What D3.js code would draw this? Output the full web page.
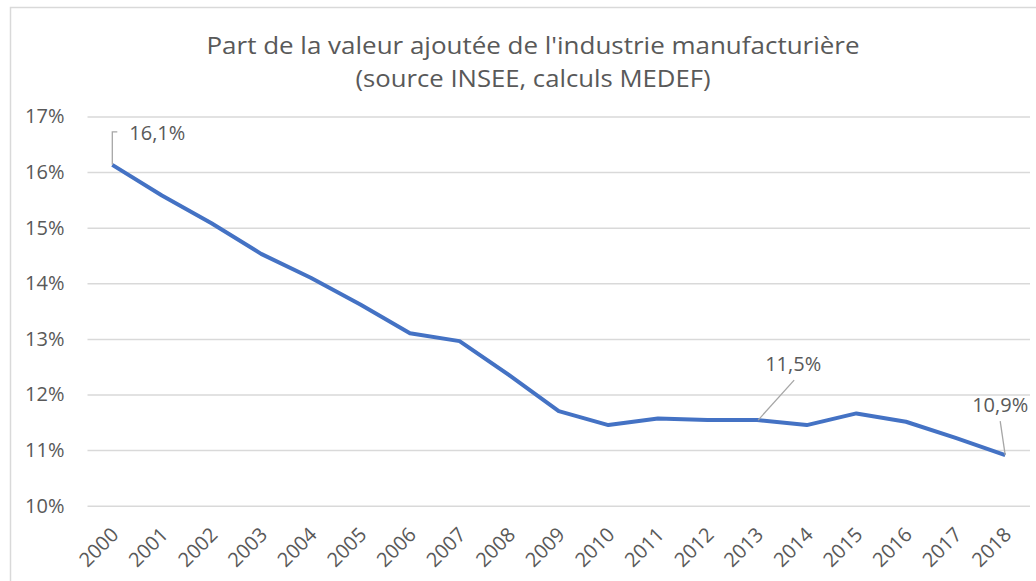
<!DOCTYPE html>
<html>
<head>
<meta charset="utf-8">
<script src="https://cdn.jsdelivr.net/npm/d3@7"></script>
<style>
  html, body { margin: 0; padding: 0; background: #ffffff; }
  svg { display: block; }
</style>
</head>
<body>
<svg id="chart" width="1036" height="581"></svg>
<script>
// ---- data ----
const years = ["2000","2001","2002","2003","2004","2005","2006","2007","2008","2009",
               "2010","2011","2012","2013","2014","2015","2016","2017","2018"];
const shares = [16.13, 15.58, 15.08, 14.53, 14.10, 13.62, 13.10, 12.96, 12.35, 11.70,
                11.45, 11.57, 11.54, 11.54, 11.45, 11.66, 11.51, 11.22, 10.91];
const yTicks = [10, 11, 12, 13, 14, 15, 16, 17];
const titleLines = ["Part de la valeur ajoutée de l'industrie manufacturière",
                    "(source INSEE, calculs MEDEF)"];
const annotations = [
  { year: "2000", label: "16,1%" },
  { year: "2013", label: "11,5%" },
  { year: "2018", label: "10,9%" }
];

// ---- setup ----
const svg = d3.select("#chart");
const font = "'Open Sans', 'Noto Sans', sans-serif";
const textColor = "#595959";
const labelSize = 20;

// chart border
svg.append("rect")
  .attr("x", 10.5).attr("y", 7.5)
  .attr("width", 1060).attr("height", 620)
  .attr("fill", "#fff").attr("stroke", "#d9d9d9").attr("stroke-width", 1.5);

const x = d3.scalePoint().domain(years).range([87.5, 1030]).padding(0.5);
const y = d3.scaleLinear().domain([10, 17]).range([505.7, 116.5]);

// title
const titleWidths = [653, 355];
svg.append("g").selectAll("text").data(titleLines).join("text")
  .attr("x", 533).attr("y", (d, i) => 54 + i * 33)
  .attr("text-anchor", "middle")
  .attr("font-family", font).attr("font-size", 24)
  .attr("textLength", (d, i) => titleWidths[i])
  .attr("lengthAdjust", "spacingAndGlyphs")
  .attr("fill", textColor)
  .text(d => d);

// gridlines + y labels
const yAxis = d3.axisLeft(y).tickValues(yTicks)
  .tickSize(-(1030 - 87.5)).tickPadding(23)
  .tickFormat(d => d + "%");
const gy = svg.append("g").attr("transform", "translate(87.5,0)").call(yAxis);
gy.select(".domain").remove();
gy.selectAll(".tick line").attr("stroke", "#d9d9d9").attr("stroke-width", 1.5);
gy.selectAll(".tick text")
  .attr("font-family", font).attr("font-size", labelSize).attr("fill", textColor);

// x axis labels
const xAxis = d3.axisBottom(x).tickSize(0).tickPadding(0);
const gx = svg.append("g").attr("transform", "translate(2,531)").call(xAxis);
gx.select(".domain").remove();
gx.selectAll(".tick text")
  .attr("font-family", font).attr("font-size", labelSize).attr("fill", textColor)
  .attr("text-anchor", "end")
  .attr("dy", "0.35em")
  .attr("y", 0)
  .attr("transform", "rotate(-45)");

// line
const line = d3.line().x((d, i) => x(years[i])).y(d => y(d));
svg.append("path")
  .datum(shares)
  .attr("fill", "none")
  .attr("stroke", "#4472C4")
  .attr("stroke-width", 4)
  .attr("stroke-linejoin", "round")
  .attr("d", line);

// annotations with leader lines
const val = yr => shares[years.indexOf(yr)];
const ann = svg.append("g");
annotations.forEach(a => {
  const px = x(a.year), py = y(val(a.year));
  let pts, tx, ty, anchor;
  if (a.year === "2000") {
    pts = [[px, py], [px, py - 33], [px + 5, py - 33]];
    tx = px + 17; ty = py - 25; anchor = "start";
  } else if (a.year === "2013") {
    pts = [[px + 1, py], [px + 37, py - 40]];
    tx = px + 36; ty = py - 49; anchor = "middle";
  } else {
    pts = [[px, py], [px - 5, py - 34]];
    tx = px - 5; ty = py - 43; anchor = "middle";
  }
  ann.append("path")
    .attr("d", d3.line()(pts))
    .attr("fill", "none").attr("stroke", "#a6a6a6").attr("stroke-width", 1.3);
  ann.append("text")
    .attr("x", tx).attr("y", ty)
    .attr("text-anchor", anchor)
    .attr("font-family", font).attr("font-size", labelSize).attr("fill", textColor)
    .text(a.label);
});
</script>
</body>
</html>
